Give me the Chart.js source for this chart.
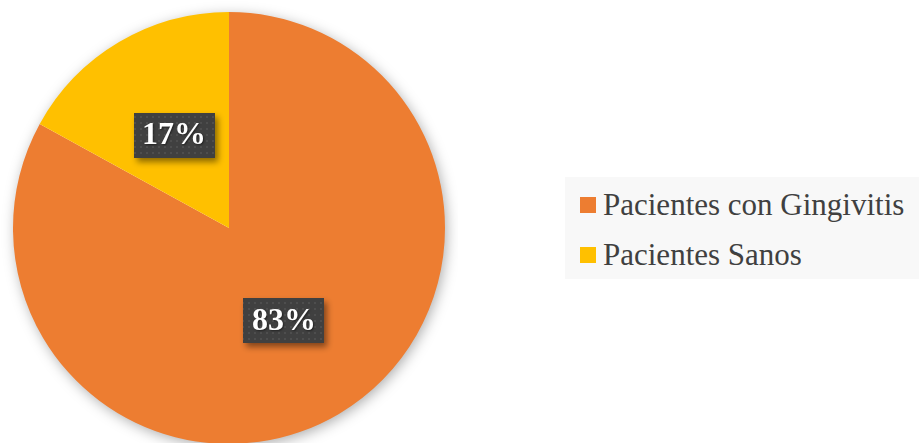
<!DOCTYPE html>
<html>
<head>
<meta charset="utf-8">
<script src="https://cdn.jsdelivr.net/npm/chart.js@4"></script>
<style>
  html, body { margin: 0; padding: 0; background: #fff; overflow: hidden; }
  body { width: 919px; height: 443px; position: relative; }
  #pieWrap { position: absolute; left: 0; top: 0; width: 458px; height: 456px; }
  #legend {
    position: absolute; left: 565px; top: 177px; width: 354px; height: 102px;
    background: #f8f8f8; font-family: "Liberation Serif", Tinos, "Times New Roman", Times, "DejaVu Serif", serif;
    font-size: 31px; color: #404040;
  }
  .item { position: absolute; left: 15px; height: 36px; line-height: 36px; white-space: nowrap; }
  .item span.sw { position: absolute; left: 0; top: 10px; width: 16px; height: 16px; }
  .item span.tx { position: absolute; left: 23px; top: 0; }
</style>
</head>
<body>
<div id="pieWrap"><canvas id="pieChart"></canvas></div>
<div id="legend"></div>
<script>
// datos
const categorias = ['Pacientes con Gingivitis', 'Pacientes Sanos'];
const porcentajes = [83, 17];
const colores = ['#ED7D31', '#FFC000'];

const SERIF = '"Liberation Serif", Tinos, "Times New Roman", Times, "DejaVu Serif", serif';

// leyenda
const legend = document.getElementById('legend');
categorias.forEach((cat, i) => {
    const row = document.createElement('div');
    row.className = 'item';
    row.style.top = (i * 50 + 10) + 'px';
    row.innerHTML = `<span class="sw" style="background:${colores[i]}"></span><span class="tx">${cat}</span>`;
    legend.appendChild(row);
});

// patrón de puntos para las etiquetas
function makePattern(ctx) {
    const c = document.createElement('canvas');
    c.width = 6; c.height = 6;
    const p = c.getContext('2d');
    p.fillStyle = '#404040';
    p.fillRect(0, 0, 6, 6);
    p.fillStyle = '#4e4e4e';
    p.fillRect(2, 2, 2, 2);
    return ctx.createPattern(c, 'repeat');
}

// sombra del círculo completo
const pieShadow = {
    id: 'pieShadow',
    beforeDatasetsDraw(chart) {
        const arc = chart.getDatasetMeta(0).data[0];
        if (!arc) return;
        const ctx = chart.ctx;
        ctx.save();
        ctx.shadowColor = 'rgba(0,0,0,0.35)';
        ctx.shadowBlur = 14;
        ctx.shadowOffsetX = 2;
        ctx.shadowOffsetY = 3;
        ctx.fillStyle = '#ffffff';
        ctx.beginPath();
        ctx.arc(arc.x, arc.y, arc.outerRadius - 1, 0, Math.PI * 2);
        ctx.fill();
        ctx.restore();
    }
};

// etiquetas de porcentaje
const pctLabels = {
    id: 'pctLabels',
    afterDatasetsDraw(chart) {
        const ctx = chart.ctx;
        const pattern = makePattern(ctx);
        chart.getDatasetMeta(0).data.forEach((arc, i) => {
            const pos = arc.tooltipPosition();
            const w = 81, h = 45;
            const x = Math.round(pos.x - w / 2), y = Math.round(pos.y - h / 2);
            ctx.save();
            ctx.shadowColor = 'rgba(0,0,0,0.45)';
            ctx.shadowBlur = 6;
            ctx.shadowOffsetX = 3;
            ctx.shadowOffsetY = 4;
            ctx.fillStyle = pattern;
            ctx.fillRect(x, y, w, h);
            ctx.restore();

            ctx.save();
            ctx.font = 'bold 32px ' + SERIF;
            ctx.fillStyle = '#ffffff';
            ctx.textAlign = 'center';
            ctx.textBaseline = 'middle';
            ctx.shadowColor = 'rgba(0,0,0,0.5)';
            ctx.shadowBlur = 2;
            ctx.shadowOffsetX = 1;
            ctx.shadowOffsetY = 1;
            ctx.fillText(porcentajes[i] + '%', pos.x, pos.y + 1);
            ctx.restore();
        });
    }
};

new Chart(document.getElementById('pieChart'), {
    type: 'pie',
    data: {
        labels: categorias,
        datasets: [{
            data: porcentajes,
            backgroundColor: colores,
            borderWidth: 0
        }]
    },
    options: {
        responsive: true,
        maintainAspectRatio: false,
        animation: false,
        layout: { padding: { left: 13, right: 13, top: 12, bottom: 12 } },
        plugins: {
            legend: { display: false },
            tooltip: { enabled: false }
        }
    },
    plugins: [pieShadow, pctLabels]
});
</script>
</body>
</html>
